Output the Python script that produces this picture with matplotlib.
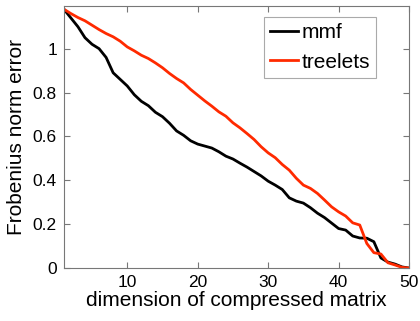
import matplotlib
matplotlib.use("Agg")
import matplotlib.pyplot as plt

dims = list(range(1, 51))
mmf = [1.18, 1.14, 1.10, 1.05, 1.02, 1.00, 0.96, 0.89, 0.86, 0.83,
       0.79, 0.76, 0.74, 0.71, 0.69, 0.66, 0.625, 0.605, 0.58, 0.565,
       0.556, 0.547, 0.53, 0.51, 0.497, 0.478, 0.46, 0.44, 0.42, 0.396,
       0.378, 0.358, 0.32, 0.305, 0.296, 0.275, 0.25, 0.23, 0.205, 0.18,
       0.173, 0.146, 0.137, 0.136, 0.12, 0.046, 0.027, 0.018, 0.005, 0.0]
treelets = [1.18, 1.16, 1.142, 1.127, 1.107, 1.087, 1.069, 1.054, 1.034, 1.008,
            0.99, 0.97, 0.955, 0.935, 0.913, 0.887, 0.864, 0.844, 0.814, 0.788,
            0.762, 0.738, 0.712, 0.692, 0.662, 0.639, 0.613, 0.586, 0.553, 0.525,
            0.503, 0.472, 0.446, 0.409, 0.378, 0.363, 0.34, 0.31, 0.279, 0.256,
            0.237, 0.206, 0.196, 0.112, 0.07, 0.064, 0.024, 0.014, 0.003, 0.0]
yticks = [0, 0.2, 0.4, 0.6, 0.8, 1]
ytick_labels = ["0", "0.2", "0.4", "0.6", "0.8", "1"]
xticks = [10, 20, 30, 40, 50]

plt.rcParams["font.family"] = "Liberation Sans"

fig = plt.figure(figsize=(4.2, 3.21), dpi=100)
ax = fig.add_axes([0.152, 0.165, 0.822, 0.816])
ax.plot(dims, mmf, color="black", lw=2, label="mmf")
ax.plot(dims, treelets, color="#ff2a00", lw=2, label="treelets")
ax.set_xlim(1, 50)
ax.set_ylim(0, 1.194)
ax.set_xticks(xticks)
ax.set_yticks(yticks)
ax.set_yticklabels(ytick_labels)
ax.tick_params(direction="in", top=True, right=True, length=4, width=0.8,
               color="#777777", labelsize=12.5, pad=5)
for s in ax.spines.values():
  s.set_color("#777777")
  s.set_linewidth(0.8)
ax.set_xlabel("dimension of compressed matrix", fontsize=15, labelpad=1)
ax.set_ylabel("Frobenius norm error", fontsize=15, labelpad=5)
leg = ax.legend(loc="upper right", bbox_to_anchor=(0.904, 0.958), borderaxespad=0,
                fontsize=15, handlelength=1.35, handletextpad=0.15,
                borderpad=0.3, labelspacing=0.5, fancybox=False, framealpha=1)
leg.get_frame().set_edgecolor("#aaaaaa")
leg.get_frame().set_linewidth(0.8)
fig.savefig("out.png", dpi=100)
